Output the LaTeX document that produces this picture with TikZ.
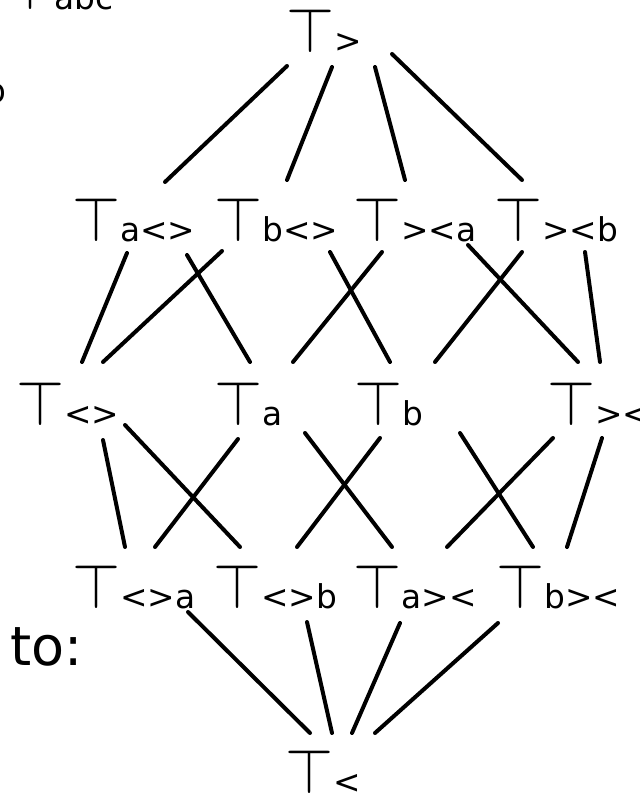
\documentclass[tikz,border=0pt]{standalone}
\usepackage{fontspec}
\setmainfont{DejaVu Sans}
\usepackage{graphicx}

\newcommand{\tp}{\resizebox{24pt}{22pt}{$\top$}}
\newcommand{\tlab}[1]{\tp{\fontsize{16.4}{17}\selectfont #1}}

\tikzset{
	lbl/.style={inner sep=0pt, anchor=base west},
	conn/.style={line width=2pt, line cap=round}
}

\begin{document}
\begin{tikzpicture}[x=0.5pt, y=-0.5pt]
	\useasboundingbox (0,0) rectangle (639,795);
	\clip (0,0) rectangle (639,795);
	% cut-off bits at the edge
	\node[lbl] (abc) at (6,10) {\tlab{abc}};
	\node[lbl, font=\fontsize{16.4}{17}\selectfont] (frag) at (-15,103) {b};
	\node[lbl, font=\fontsize{27}{28}\selectfont] (to) at (10,665) {to:};
	% lattice
	\node[lbl] (top) at (286,53) {\tlab{>}};
	\node[lbl] (tac) at (72,242) {\tlab{a<>}};
	\node[lbl] (tbc) at (214,242) {\tlab{b<>}};
	\node[lbl] (tga) at (353,242) {\tlab{><a}};
	\node[lbl] (tgb) at (494,242) {\tlab{><b}};
	\node[lbl] (tc) at (16,425) {\tlab{<>}};
	\node[lbl] (ta) at (214,425) {\tlab{a}};
	\node[lbl] (tb) at (354,425) {\tlab{b}};
	\node[lbl] (tg) at (547,425) {\tlab{><}};
	\node[lbl] (tca) at (72,608) {\tlab{<>a}};
	\node[lbl] (tcb) at (213,608) {\tlab{<>b}};
	\node[lbl] (tag) at (353,608) {\tlab{a><}};
	\node[lbl] (tbg) at (496,608) {\tlab{b><}};
	\node[lbl] (bot) at (285,793) {\tlab{<}};
	% connectors, offsets in px from base west
	\foreach \a/\ax/\ay/\b/\bx/\by in {
		top/1/13/tac/93/-60, top/46/14/tbc/73/-62,
		top/89/14/tga/52/-62, top/106/1/tgb/28/-62,
		tac/55/11/tc/66/-63, tbc/8/9/tc/87/-63,
		tac/115/13/ta/36/-63, tbc/116/10/tb/36/-63,
		tga/29/10/ta/79/-63, tga/115/3/tg/31/-63,
		tgb/28/10/tb/81/-63, tgb/91/10/tg/53/-63,
		tc/87/15/tca/53/-61, tc/109/0/tcb/27/-61,
		ta/24/14/tca/83/-61, ta/91/8/tag/39/-61,
		tb/26/13/tcb/84/-61, tb/106/8/tbg/37/-61,
		tg/6/13/tag/94/-61, tg/55/13/tbg/71/-61,
		tca/116/4/bot/25/-60, tcb/94/14/bot/47/-60,
		tag/47/15/bot/67/-60, tbg/2/15/bot/90/-60}
		\draw[conn] ([shift={(\ax,\ay)}]\a.base west) -- ([shift={(\bx,\by)}]\b.base west);
\end{tikzpicture}
\end{document}
